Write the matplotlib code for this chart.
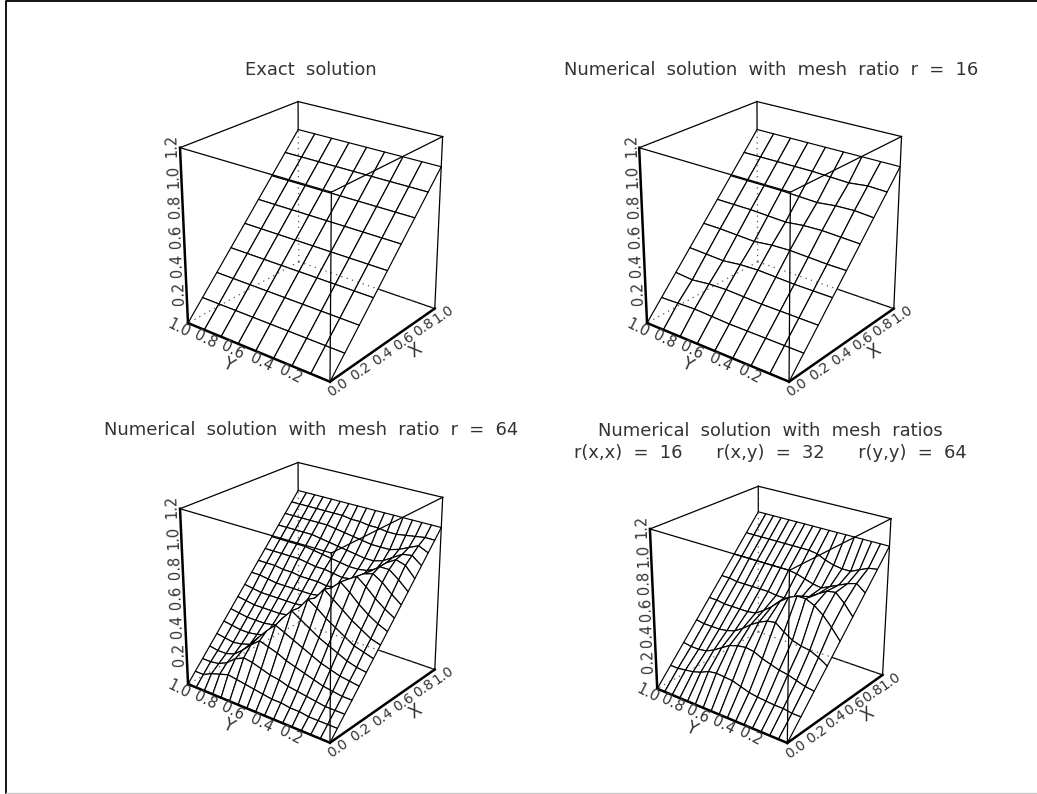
import numpy as np
import matplotlib
matplotlib.use("Agg")
import matplotlib.pyplot as plt
from matplotlib.collections import PolyCollection

# mesh coordinates
x_8 = [0, 0.125, 0.25, 0.375, 0.5, 0.625, 0.75, 0.875, 1.0]
x_16 = [0, 0.0625, 0.125, 0.1875, 0.25, 0.3125, 0.375, 0.4375, 0.5,
        0.5625, 0.625, 0.6875, 0.75, 0.8125, 0.875, 0.9375, 1.0]

# exact surface, one row per x, columns run along y
z_exact = [[0.0] * 9, [0.125] * 9, [0.25] * 9, [0.375] * 9, [0.5] * 9,
           [0.625] * 9, [0.75] * 9, [0.875] * 9, [1.0] * 9]

# departure from the exact surface, in hundredths
err_r16 = [
    [0, 0, 0, 0, 0, 0, 0, 0, 0],
    [0, 0, 0, 0, 0, 0.5, 1, 0.5, 0],
    [0, 0, 0, 0, 0.5, 1, 0.5, -1, 0],
    [0, 0, 0, 0.5, 1, 0.5, -1, -0.5, 0],
    [0, 0, 0.5, 1, 0.5, -1, -0.5, 0, 0],
    [0, 0.5, 1, 0.5, -1, -0.5, 0, 0, 0],
    [0, 1, 0.5, -1, -0.5, 0, 0, 0, 0],
    [0, 0.5, -1, -0.5, 0, 0, 0, 0, 0],
    [0, 0, 0, 0, 0, 0, 0, 0, 0],
]

err_r64 = [
    [0, 0, 0, 0, 0, 0, 0, 0, 0, 0, 0, 0, 0, 0, 0, 0, 0],
    [0, 0, 0, 0, 1, 1, 2, 2, 3, 4, 5, 6, 7, 5, 3, 0, 0],
    [0, 0, 0, 1, 2, 3, 4, 6, 7, 9, 11, 12, 9, 4, 1, 0, 0],
    [0, 0, 1, 2, 4, 6, 8, 10, 13, 15, 17, 12, 6, 1, -1, -1, 0],
    [0, 1, 2, 4, 6, 9, 12, 15, 18, 21, 15, 8, 1, -1, -2, -1, 0],
    [0, 1, 3, 6, 9, 12, 16, 20, 24, 17, 8, 1, -1, -2, -2, -1, 0],
    [0, 2, 4, 8, 12, 16, 21, 25, 17, 9, 1, -1, -2, -2, -2, -1, 0],
    [0, 2, 6, 10, 15, 20, 25, 17, 9, 1, -1, -2, -2, -2, -2, -1, 0],
    [0, 3, 7, 12, 18, 23, 17, 9, 1, -1, -2, -2, -2, -2, -2, -1, 0],
    [0, 4, 9, 15, 20, 16, 9, 1, -1, -2, -2, -2, -2, -2, -1, 0, 0],
    [0, 5, 11, 15, 13, 8, 1, -2, -3, -2, -2, -2, -1, -1, 0, 0, 0],
    [0, 6, 11, 11, 6, 0, -3, -4, -3, -2, -2, -1, 0, 0, 0, 0, 0],
    [0, 7, 9, 5, -1, -4, -5, -5, -4, -3, -2, -1, 0, 0, 0, 0, 0],
    [0, 5, 4, 0, -4, -6, -6, -5, -4, -3, -2, -1, 0, 0, 0, 0, 0],
    [0, 3, 0, -3, -5, -5, -5, -4, -3, -2, -1, 0, 0, 0, 0, 0, 0],
    [0, 0, -1, -2, -3, -3, -2, -2, -1, -1, 0, 0, 0, 0, 0, 0, 0],
    [0, 0, 0, 0, 0, 0, 0, 0, 0, 0, 0, 0, 0, 0, 0, 0, 0],
]

err_mixed = [
    [0, 0, 0, 0, 0, 0, 0, 0, 0, 0, 0, 0, 0, 0, 0, 0, 0],
    [0, 0, 1, 1, 1.5, 2, 3, 5, 7, 7.5, 8, 7, 4, 2, 1, 0, 0],
    [0, 1, 3, 5, 6, 8, 10, 13, 14, 13, 11, 7, 3, 0, -1, -1, 0],
    [0, 4, 7, 8, 10, 14, 19, 18, 15, 11, 6, 2, 0, -1, -1, -1, 0],
    [0, 8, 15, 20, 23, 23, 20, 15, 9, 4, 0, -1, -1, -1, -1, 0, 0],
    [0, 8, 14, 13, 9, 5, 2, -1, -2, -2, -1, -1, -1, -1, -1, 0, 0],
    [0, 5, 3, 0, -3, -6, -5, -3, -1, 0, 0, 0, 0, 0, 0, 0, 0],
    [0, -1, -4, -7, -7, -6, -4, -1, 0, 0, 0, 0, 0, 0, 0, 0, 0],
    [0, 0, 0, 0, 0, 0, 0, 0, 0, 0, 0, 0, 0, 0, 0, 0, 0],
]

z_ticks = [0.2, 0.4, 0.6, 0.8, 1.0, 1.2]
y_ticks = [1.0, 0.8, 0.6, 0.4, 0.2]
x_ticks = [0.0, 0.2, 0.4, 0.6, 0.8, 1.0]

title_exact = "Exact  solution"
title_r16 = "Numerical  solution  with  mesh  ratio  r  =  16"
title_r64 = "Numerical  solution  with  mesh  ratio  r  =  64"
title_mixed_1 = "Numerical  solution  with  mesh  ratios"
title_mixed_2 = "r(x,x)  =  16      r(x,y)  =  32      r(y,y)  =  64"

ZTOP = 1.2
CUBE = [(0, 0, 0), (0, 1, 0), (1, 0, 0), (1, 1, 0),
        (0, 0, ZTOP), (0, 1, ZTOP), (1, 0, ZTOP), (1, 1, ZTOP)]

# where the box corners sit on the page, pixels, same order as CUBE
box_1 = [(330, 381.7), (188.3, 323.3), (435, 308.3), (298.3, 261.7),
         (331, 192.3), (180, 147.3), (442.7, 136.7), (298.3, 101.7)]
box_2 = [(789, 381.7), (647.3, 323.3), (894, 308.3), (757.3, 261.7),
         (790, 192.3), (639.3, 147.3), (901.7, 136.7), (757, 101.7)]
box_3 = [(330, 742.7), (188.3, 684.3), (435, 669.3), (298.3, 622.7),
         (331, 553.3), (180, 508.3), (442.7, 497.3), (298.3, 462.7)]
box_4 = [(787.3, 742.7), (657.3, 689), (882.7, 675), (758.3, 631.7),
         (789.3, 571), (650, 528.3), (891, 518.3), (758.3, 486.7)]


def fit_camera(corners):
    # direct linear transform from the 8 box corners
    rows = []
    for (X, Y, Z), (u, v) in zip(CUBE, corners):
        rows.append([X, Y, Z, 1, 0, 0, 0, 0, -u * X, -u * Y, -u * Z, -u])
        rows.append([0, 0, 0, 0, X, Y, Z, 1, -v * X, -v * Y, -v * Z, -v])
    return np.linalg.svd(np.array(rows))[2][-1].reshape(3, 4)


def project(cam, x, y, z):
    x, y, z = np.broadcast_arrays(x, y, z)
    pts = np.stack([x, y, z, np.ones_like(x, dtype=float)], axis=-1)
    h = pts @ cam.T
    return h[..., 0] / h[..., 2], h[..., 1] / h[..., 2]


def edge(ax, cam, a, b, **kw):
    sx, sy = project(cam, np.array([a[0], b[0]], float),
                     np.array([a[1], b[1]], float), np.array([a[2], b[2]], float))
    ax.plot(sx, sy, **kw)


def draw_panel(ax, corners, xs, ys, z):
    cam = fit_camera(corners)
    z = np.array(z, dtype=float)
    xs = np.array(xs, dtype=float)
    ys = np.array(ys, dtype=float)
    gx, gy = np.meshgrid(xs, ys, indexing="ij")
    sx, sy = project(cam, gx, gy, z)

    # back of the box, the surface hides it
    for a, b in [((1, 1, ZTOP), (0, 1, ZTOP)), ((1, 1, ZTOP), (1, 0, ZTOP)),
                 ((1, 1, 0), (1, 1, ZTOP)), ((1, 1, 0), (1, 0, 0)),
                 ((1, 1, 0), (0, 1, 0))]:
        edge(ax, cam, a, b, color="black", lw=0.9, zorder=1)

    # painter's order, far corner first
    polys = []
    for i in range(len(xs) - 2, -1, -1):
        for j in range(len(ys) - 2, -1, -1):
            polys.append([(sx[i, j], sy[i, j]), (sx[i + 1, j], sy[i + 1, j]),
                          (sx[i + 1, j + 1], sy[i + 1, j + 1]), (sx[i, j + 1], sy[i, j + 1])])
    ax.add_collection(PolyCollection(polys, facecolors="white", edgecolors="black",
                                     linewidths=0.85, zorder=2))

    # hidden box lines show through as dots
    for a, b in [((1, 1, 0), (1, 1, ZTOP)), ((1, 1, 0), (1, 0, 0)), ((1, 1, 0), (0, 1, 0))]:
        edge(ax, cam, a, b, color="#555555", lw=0.9, ls=(0, (1, 3.5)), zorder=3)

    # front of the box
    for a, b in [((0, 0, 0), (0, 0, ZTOP)), ((0, 0, ZTOP), (0, 1, ZTOP)),
                 ((0, 0, ZTOP), (1, 0, ZTOP)), ((1, 0, 0), (1, 0, ZTOP))]:
        edge(ax, cam, a, b, color="black", lw=0.9, zorder=4)

    # the three labelled axes are heavier
    for a, b in [((0, 1, 0), (0, 1, ZTOP)), ((0, 1, 0), (0, 0, 0)), ((0, 0, 0), (1, 0, 0))]:
        edge(ax, cam, a, b, color="black", lw=1.8, zorder=5)

    lab = dict(ha="center", va="center", rotation_mode="anchor", fontsize=10.5,
               color="#333333", zorder=6)
    for t in z_ticks:
        px, py = project(cam, 0.0, 1.0, t)
        ax.text(px - 8, py - 2, "%.1f" % t, rotation=92, **lab)
    for t in y_ticks:
        px, py = project(cam, 0.0, t, 0.0)
        ax.text(px - 9, py + 5, "%.1f" % t, rotation=-27, **lab)
    for t in x_ticks:
        px, py = project(cam, t, 0.0, 0.0)
        ax.text(px + 8, py + 6, "%.1f" % t, rotation=35, **{**lab, "fontsize": 10})

    px, py = project(cam, 0.0, 0.5, 0.0)
    ax.text(px - 27, py + 14, "Y", rotation=-25, **{**lab, "fontsize": 12.5})
    px, py = project(cam, 0.5, 0.0, 0.0)
    ax.text(px + 30, py + 8, "X", rotation=35, **{**lab, "fontsize": 12.5})


fig = plt.figure(figsize=(10.37, 7.94), dpi=100)
ax = fig.add_axes([0, 0, 1, 1])
ax.set_xlim(0, 1037)
ax.set_ylim(794, 0)
ax.axis("off")

# page frame
ax.plot([1037, 5.5, 5.5], [0.8, 0.8, 794], color="black", lw=1.3)
ax.plot([5.5, 1037], [793.3, 793.3], color="#cccccc", lw=1.0)

r16 = np.array(z_exact) + np.array(err_r16) / 100.0
r64 = np.array(x_16)[:, None] + np.array(err_r64) / 100.0
mixed = np.array(x_8)[:, None] + np.array(err_mixed) / 100.0

draw_panel(ax, box_1, x_8, x_8, z_exact)
draw_panel(ax, box_2, x_8, x_8, r16)
draw_panel(ax, box_3, x_16, x_16, r64)
draw_panel(ax, box_4, x_8, x_16, mixed)

tit = dict(ha="center", va="center", fontsize=12.9, color="#333333")
ax.text(311, 70, title_exact, **tit)
ax.text(771, 70, title_r16, **tit)
ax.text(311, 430, title_r64, **tit)
ax.text(770, 431, title_mixed_1, **tit)
ax.text(770, 453, title_mixed_2, **tit)

fig.savefig("out.png", dpi=100)
